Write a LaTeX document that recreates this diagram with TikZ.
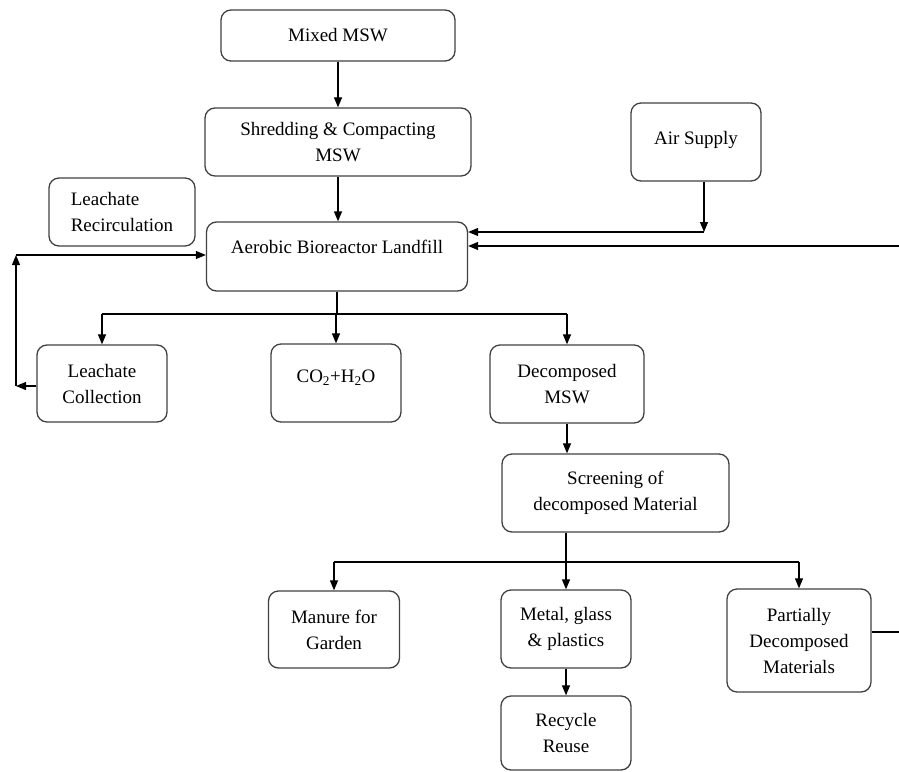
\documentclass[tikz,border=0pt]{standalone}
\usepackage{fontspec}
\setmainfont{Liberation Serif}
\usepackage{tikz}
\usetikzlibrary{arrows.meta,positioning,calc}
\definecolor{boxline}{HTML}{404040}

\begin{document}
\begin{tikzpicture}[x=1pt,y=-1pt,
  box/.style={draw=boxline,line width=1.3pt,rounded corners=10pt,align=center,inner sep=2pt,font=\fontsize{19}{26}\selectfont},
  arr/.style={line width=1.2pt,-{Triangle[length=10pt,width=8pt]}},
  ln/.style={line width=1.2pt}]
  \useasboundingbox (0,0) rectangle (899,771);
  \node[box,minimum width=234pt,minimum height=51pt] (mix) at (338,35.5) {Mixed MSW};
  \node[box,minimum width=266pt,minimum height=68pt] (shred) at (338,142) {Shredding \& Compacting\\MSW};
  \node[box,minimum width=130pt,minimum height=78pt] (air) at (696,142) {\raisebox{8pt}{Air Supply}};
  \node[box,minimum width=146pt,minimum height=68pt,align=left] (recirc) at (122,212) {Leachate\\Recirculation};
  \node[box,minimum width=261pt,minimum height=69pt] (aero) at (337,256.5) {\raisebox{20pt}{Aerobic Bioreactor Landfill}};
  \node[box,minimum width=130pt,minimum height=77pt] (coll) at (102,383.5) {Leachate\\Collection};
  \node[box,minimum width=130pt,minimum height=78pt] (gas) at (336,383) {\raisebox{14pt}{CO\textsubscript{2}+H\textsubscript{2}O}};
  \node[box,minimum width=154pt,minimum height=78pt] (dec) at (567,384) {Decomposed\\MSW};
  \node[box,minimum width=227pt,minimum height=78pt] (scr) at (615.5,493) {Screening of\\decomposed Material};
  \node[box,minimum width=131pt,minimum height=77pt] (man) at (334,629.5) {Manure for\\Garden};
  \node[box,minimum width=130pt,minimum height=78pt] (met) at (566,629) {Metal, glass\\\& plastics};
  \node[box,minimum width=144pt,minimum height=103pt] (part) at (799,640.5) {Partially\\Decomposed\\Materials};
  \node[box,minimum width=130pt,minimum height=74pt] (rec) at (566,733) {Recycle\\Reuse};
  % top chain
  \draw[arr] (mix.south) -- (mix.south |- shred.north);
  \draw[arr] (shred.south) -- (shred.south |- aero.north);
  % air supply and return from the right
  \coordinate (a1) at (704,232);
  \coordinate (e1) at (899,246);
  \draw[arr] (air.south -| a1) -- (a1);
  \draw[arr] (a1) -- (a1 -| aero.east);
  \draw[arr] (e1) -- (e1 -| aero.east);
  % leachate loop
  \coordinate (l1) at (16,386);
  \coordinate (l2) at (16,255);
  \draw[arr] (coll.west |- l1) -- (l1);
  \draw[arr] (l1) -- (l2);
  \draw[arr] (l2) -- (l2 -| aero.west);
  % outputs of the landfill
  \coordinate (j1) at (337,314);
  \draw[ln] (aero.south) -- (j1);
  \draw[ln] (j1 -| coll) -- (j1 -| dec);
  \foreach \n in {coll,gas,dec} \draw[arr] (j1 -| \n) -- (\n.north);
  \draw[arr] (dec.south) -- (dec.south |- scr.north);
  % screening outputs
  \coordinate (j2) at (566,562);
  \draw[ln] (scr.south -| j2) -- (j2);
  \draw[ln] (j2 -| man) -- (j2 -| part);
  \foreach \n in {man,met,part} \draw[arr] (j2 -| \n) -- (\n.north);
  \draw[arr] (met) -- (rec);
  \coordinate (e2) at (899,632);
  \draw[ln] (part.east |- e2) -- (e2);
\end{tikzpicture}
\end{document}
